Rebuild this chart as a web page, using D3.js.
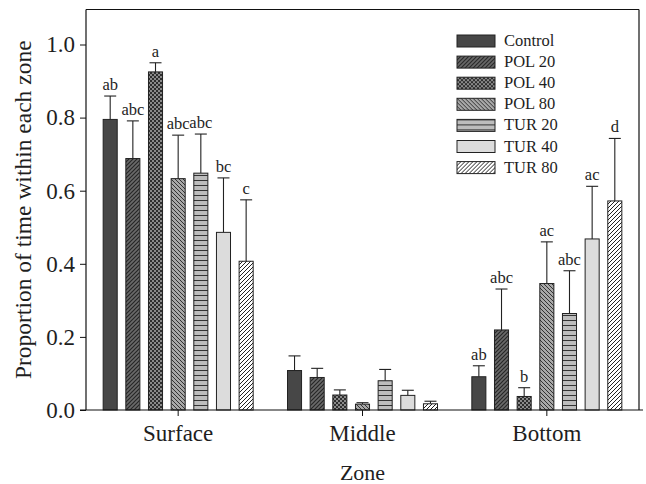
<!DOCTYPE html>
<html>
<head>
<meta charset="utf-8">
<script src="https://cdn.jsdelivr.net/npm/d3@7"></script>
<style>
  body { margin: 0; background: #fff; }
  svg text { font-family: "Liberation Serif", "Times New Roman", serif; fill: #1e1e1e; }
</style>
</head>
<body>
<svg id="chart" width="646" height="484"></svg>
<script>
// zones on the x axis and the seven treatments
const zones = ["Surface", "Middle", "Bottom"];
const treatments = ["Control", "POL 20", "POL 40", "POL 80", "TUR 20", "TUR 40", "TUR 80"];

// mean proportion of time per treatment, one array per zone
const surfaceMeans = [0.795, 0.688, 0.925, 0.633, 0.648, 0.486, 0.407];
const middleMeans  = [0.108, 0.089, 0.041, 0.016, 0.080, 0.040, 0.017];
const bottomMeans  = [0.091, 0.219, 0.037, 0.346, 0.264, 0.468, 0.572];

// upper error (SE) added on top of each mean
const surfaceErr = [0.064, 0.103, 0.025, 0.119, 0.107, 0.149, 0.168];
const middleErr  = [0.040, 0.025, 0.014, 0.004, 0.031, 0.014, 0.007];
const bottomErr  = [0.030, 0.112, 0.024, 0.114, 0.117, 0.144, 0.171];

// significance letters (empty where none shown)
const surfaceLetters = ["ab", "abc", "a", "abc", "abc", "bc", "c"];
const middleLetters  = ["", "", "", "", "", "", ""];
const bottomLetters  = ["ab", "abc", "b", "ac", "abc", "ac", "d"];

const yTicks = [0, 0.2, 0.4, 0.6, 0.8, 1.0];

const means = [surfaceMeans, middleMeans, bottomMeans];
const errs = [surfaceErr, middleErr, bottomErr];
const letters = [surfaceLetters, middleLetters, bottomLetters];

const svg = d3.select("#chart");
const margin = { left: 86, right: 7, top: 9.5, bottom: 74 };
const W = 646, H = 484;

const x0 = d3.scaleBand().domain(zones).range([margin.left, W - margin.right]).padding(0);
const y = d3.scaleLinear().domain([0, 1]).range([410, 44.5]);

// patterns for each treatment
const defs = svg.append("defs");
function pat(id, w, h, bg, draw) {
  const p = defs.append("pattern").attr("id", id).attr("patternUnits", "userSpaceOnUse")
    .attr("width", w).attr("height", h);
  p.append("rect").attr("width", w).attr("height", h).attr("fill", bg);
  draw(p);
}
pat("p-pol20", 4, 4, "#6a6a6a", p => {
  p.append("path").attr("d", "M-1,1 L1,-1 M0,4 L4,0 M3,5 L5,3").attr("stroke", "#262626").attr("stroke-width", 1.2);
});
pat("p-pol40", 4, 4, "#2e2e2e", p => {
  p.append("rect").attr("x", 0).attr("y", 0).attr("width", 2).attr("height", 2).attr("fill", "#8a8a8a");
  p.append("rect").attr("x", 2).attr("y", 2).attr("width", 2).attr("height", 2).attr("fill", "#8a8a8a");
});
pat("p-pol80", 4, 4, "#a8a8a8", p => {
  p.append("path").attr("d", "M-1,3 L1,5 M0,0 L4,4 M3,-1 L5,1").attr("stroke", "#333").attr("stroke-width", 1);
});
pat("p-tur20", 6, 5, "#bdbdbd", p => {
  p.append("path").attr("d", "M0,0.5 L6,0.5").attr("stroke", "#333").attr("stroke-width", 1);
});
pat("p-tur80", 4, 4, "#ffffff", p => {
  p.append("path").attr("d", "M-1,1 L1,-1 M0,4 L4,0 M3,5 L5,3").attr("stroke", "#222").attr("stroke-width", 1);
});

const fills = ["#474747", "url(#p-pol20)", "url(#p-pol40)", "url(#p-pol80)", "url(#p-tur20)", "#dcdcdc", "url(#p-tur80)"];

// frame: top and right lines
svg.append("line").attr("x1", margin.left).attr("x2", W - margin.right)
  .attr("y1", margin.top).attr("y2", margin.top).attr("stroke", "#111").attr("stroke-width", 1.2);
svg.append("line").attr("x1", W - margin.right).attr("x2", W - margin.right)
  .attr("y1", margin.top).attr("y2", y(0)).attr("stroke", "#111").attr("stroke-width", 1.2);

// bars
zones.forEach((z, zi) => {
  const c = x0(z) + x0.bandwidth() / 2;
  const x1 = d3.scaleBand().domain(treatments).range([c - 75, c + 75]).paddingInner(0.38).paddingOuter(0);
  const g = svg.append("g");
  treatments.forEach((t, ti) => {
    const v = means[zi][ti];
    const e = errs[zi][ti];
    const bx = x1(t), bw = x1.bandwidth(), cx = bx + bw / 2;
    // error bar (upper only)
    g.append("line").attr("x1", cx).attr("x2", cx).attr("y1", y(v)).attr("y2", y(v + e))
      .attr("stroke", "#222").attr("stroke-width", 1.1);
    g.append("line").attr("x1", cx - 6).attr("x2", cx + 6).attr("y1", y(v + e)).attr("y2", y(v + e))
      .attr("stroke", "#222").attr("stroke-width", 1.1);
    g.append("rect").attr("x", bx).attr("y", y(v)).attr("width", bw).attr("height", y(0) - y(v))
      .attr("fill", fills[ti]).attr("stroke", "#222").attr("stroke-width", 1);
    const lab = letters[zi][ti];
    if (lab) {
      g.append("text").attr("x", cx).attr("y", y(v + e) - 6).attr("text-anchor", "middle")
        .attr("font-size", 16.5).text(lab);
    }
  });
});

// y axis
const yAxis = svg.append("g").attr("transform", `translate(${margin.left},0)`)
  .call(d3.axisLeft(y).tickValues(yTicks).tickFormat(d3.format(".1f")).tickSize(6).tickPadding(5));
yAxis.select(".domain").attr("d", `M0,${y(0)}V${margin.top}`).attr("stroke", "#111").attr("stroke-width", 1.2);
yAxis.selectAll("text").attr("font-size", 23).attr("font-family", "Liberation Serif").attr("fill", "#1e1e1e");
yAxis.selectAll(".tick line").attr("stroke", "#111");

// x axis
const xAxis = svg.append("g").attr("transform", `translate(0,${y(0)})`)
  .call(d3.axisBottom(x0).tickSize(6).tickPadding(9));
xAxis.select(".domain").attr("d", `M${margin.left - 6},0H${W - 3}`).attr("stroke", "#111").attr("stroke-width", 1.2);
xAxis.selectAll("text").attr("font-size", 23).attr("font-family", "Liberation Serif").attr("fill", "#1e1e1e");
xAxis.selectAll(".tick line").attr("stroke", "#111");

// axis titles
svg.append("text").attr("x", x0(zones[1]) + x0.bandwidth() / 2).attr("y", 480)
  .attr("text-anchor", "middle").attr("font-size", 22).text("Zone");
svg.append("text").attr("transform", `translate(31,${(margin.top + y(0)) / 2}) rotate(-90)`)
  .attr("text-anchor", "middle").attr("font-size", 23.5).text("Proportion of time within each zone");

// legend
const legend = svg.append("g").attr("transform", "translate(457,35)");
treatments.forEach((t, i) => {
  const row = legend.append("g").attr("transform", `translate(0,${i * 21.1})`);
  row.append("rect").attr("width", 38).attr("height", 12).attr("fill", fills[i])
    .attr("stroke", "#222").attr("stroke-width", 1);
  row.append("text").attr("x", 47).attr("y", 11).attr("font-size", 16.5).text(t);
});
</script>
</body>
</html>
